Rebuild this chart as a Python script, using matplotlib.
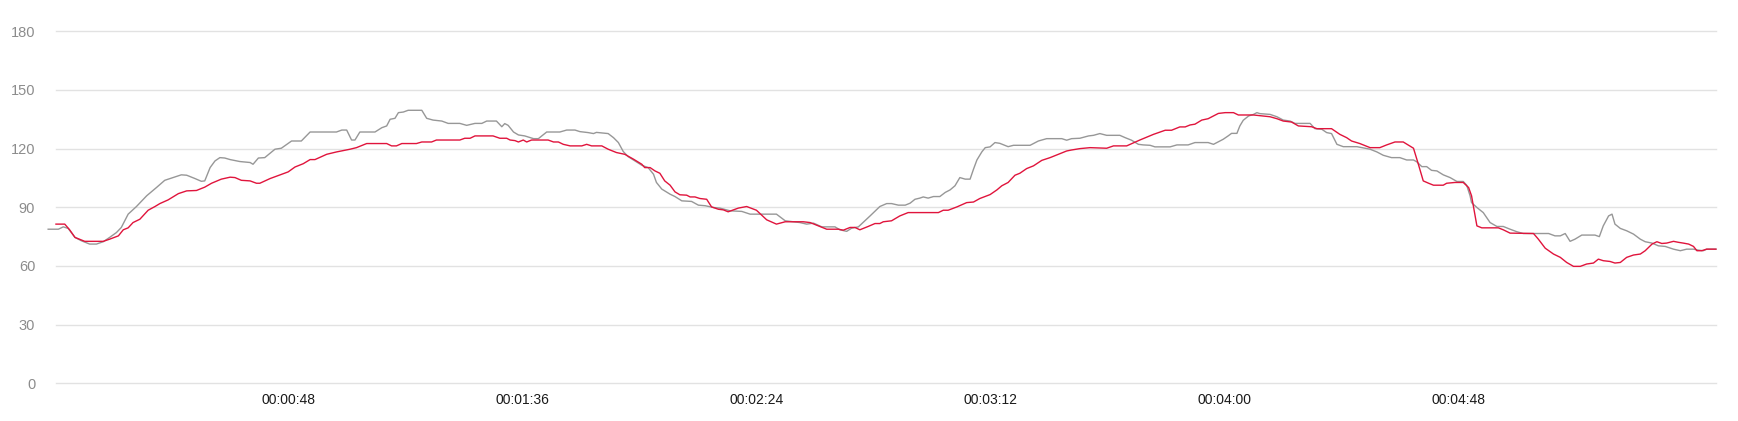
import matplotlib
matplotlib.use("Agg")
import matplotlib.pyplot as plt

plt.rcParams['font.family'] = ['Liberation Sans', 'DejaVu Sans']

# gray series (seconds, value)
gray_t = [-1.2, 0.9, 1.9, 2.9, 4.3, 5.6, 7.3, 8.7, 10.1, 11.4, 12.8, 13.8, 15.2, 16.9, 19.0,
          21.0, 22.7, 24.4, 26.1, 27.2, 28.9, 30.2, 30.9, 32.0, 33.0, 34.0, 35.0, 36.1, 38.1,
          40.2, 40.8, 41.9, 43.2, 45.3, 46.6, 48.7, 50.7, 52.5, 57.9, 59.0, 60.0, 61.0, 61.7,
          62.7, 65.8, 67.2, 68.2, 68.9, 69.9, 70.6, 71.6, 72.6, 75.4, 76.4, 77.7, 79.5, 80.8,
          83.2, 84.6, 86.3, 87.7, 88.7, 90.7, 91.8, 92.4, 93.1, 94.2, 95.2, 96.5, 98.3, 99.3,
          101.0, 103.7, 105.1, 106.8, 107.8, 109.5, 110.6, 111.2, 113.6, 114.7, 115.7, 116.7,
          117.7, 119.1, 120.5, 121.8, 122.9, 123.5, 124.6, 126.3,
          127.3, 128.7, 130.7, 132.1, 133.5, 135.2, 136.5, 138.6, 141.0, 142.7, 148.1, 149.9,
          151.6, 152.9, 154.3, 155.7, 157.4, 160.1, 161.1, 162.5, 163.5, 164.9, 167.3, 169.3,
          170.7, 171.7, 173.1, 174.5, 175.5, 176.5, 177.5, 178.2, 179.2, 180.3, 181.6, 182.7,
          183.7, 184.7, 185.7, 186.8, 187.8, 188.5, 189.2, 190.2, 190.9, 191.9, 192.9, 193.9,
          195.6, 196.7, 200.1, 201.8, 203.5, 206.6, 207.6, 208.6, 210.3, 212.1,
          213.1, 214.4, 215.8, 218.5, 219.6, 220.9, 222.3, 223.3, 224.7, 225.7, 228.8, 230.2,
          232.5, 233.9, 236.6, 237.7, 238.4, 239.7, 240.7, 241.4, 242.5, 243.1, 243.8, 244.9,
          245.9, 246.6, 247.2, 249.3, 250.7, 252.0, 253.4, 254.4, 255.4,
          257.5, 258.5, 259.9, 260.9, 261.9, 263.0, 264.3, 267.1, 268.1, 269.8, 271.2, 272.5,
          274.2, 275.9, 277.3, 278.7, 279.4, 280.4, 281.4, 282.4, 283.5, 284.8, 286.2, 287.6,
          288.9, 289.6, 290.3, 290.6, 291.7, 293.0, 294.4, 295.8, 297.1, 298.5,
          299.9, 301.2, 306.4, 307.7, 308.8, 309.8, 310.8, 311.8, 313.2, 315.9, 316.8, 317.6,
          318.7, 319.4, 320.0, 321.1, 322.4, 323.8, 325.2, 326.2, 327.6, 328.9, 330.3, 332.0,
          333.4, 334.7, 336.1, 337.1, 338.1, 338.8, 340.7]
gray_v = [78.8, 78.8, 80.0, 79.2, 74.6, 72.9, 71.2, 71.2, 72.4, 74.6, 77.1, 79.7, 86.5, 90.4, 95.9,
          100.1, 103.8, 105.2, 106.6, 106.4, 104.7, 103.3, 103.5, 110.3, 113.7, 115.4, 115.2, 114.4, 113.4,
          112.9, 112.0, 115.2, 115.4, 119.7, 120.2, 123.9, 123.9, 128.5, 128.5, 129.5, 129.5, 124.4, 124.4,
          128.5, 128.5, 130.7, 131.6, 135.0, 135.5, 138.4, 138.7, 139.6, 139.6, 135.5, 134.6, 134.1, 132.9,
          132.9, 131.9, 132.9, 132.9, 134.1, 134.1, 131.2, 132.8, 131.9, 128.5, 127.0, 126.5, 125.1, 125.1,
          128.5, 128.5, 129.5, 129.5, 128.7, 128.2, 127.7, 128.3, 127.7, 125.6, 123.1, 118.5,
          115.9, 113.7, 111.5, 110.3, 106.9, 102.7, 99.3, 96.7,
          95.5, 93.3, 93.0, 91.1, 90.8, 89.9, 89.6, 88.2, 87.9, 86.5, 86.5, 83.1,
          82.6, 82.2, 81.4, 81.9, 80.0, 80.0, 78.5, 77.7, 79.3, 80.0, 85.6, 90.4,
          91.9, 91.9, 91.1, 91.1, 92.1, 94.1, 94.7, 95.3, 94.7, 95.5, 95.5, 97.6,
          98.9, 101.0, 105.2, 104.4, 104.4, 109.5, 114.2, 118.3, 120.5, 120.9, 123.1, 122.7,
          121.0, 121.7, 121.7, 123.9, 125.1, 125.1, 124.3, 125.1, 125.3, 126.5,
          126.8, 127.7, 126.8, 126.8, 125.6, 124.3, 122.2, 121.9, 121.7, 120.9, 120.9, 121.9,
          121.9, 123.1, 123.1, 122.2, 123.1, 124.8, 126.5, 127.8, 127.8, 131.6, 134.5, 136.7,
          137.5, 138.4, 137.9, 137.5, 136.3, 134.6, 134.1, 132.9, 132.9,
          132.9, 130.2, 129.9, 128.2, 127.7, 122.2, 121.0, 121.0, 120.5, 119.7, 118.3, 116.6,
          115.4, 115.4, 114.2, 114.2, 113.2, 110.8, 110.8, 108.9, 108.6, 106.6, 105.2, 103.2,
          103.2, 101.3, 95.9, 92.4, 89.9, 87.3, 82.2, 80.2, 80.2, 78.8,
          77.5, 76.6, 76.6, 75.4, 75.4, 76.6, 72.6, 73.7, 75.8, 75.8, 75.0, 80.5,
          85.6, 86.5, 81.4, 79.2, 78.0, 76.3, 73.7, 72.4, 71.7, 70.3, 70.0, 68.6,
          67.8, 68.6, 68.6, 68.1, 67.8, 68.6, 68.6]

# red series (seconds, value)
red_t = [0.4, 2.2, 3.2, 4.3, 6.3, 10.1, 11.4, 13.2, 14.2, 15.2, 16.2, 17.6, 19.3, 20.7, 21.7,
         23.4, 25.5, 27.2, 29.2, 30.9, 32.3, 34.3, 36.1, 37.1, 38.4,
         40.2, 41.5, 42.2, 44.3, 48.0, 49.4, 51.1, 52.5, 53.5, 55.9, 57.9, 60.7, 62.0, 64.1,
         68.2, 69.2, 70.2, 71.3, 74.3, 75.4, 77.4, 78.4,
         83.2, 84.2, 85.3, 86.3, 90.0, 91.4, 92.8, 93.5, 94.5, 95.2, 96.2, 96.9, 97.9, 101.3,
         102.4, 103.4, 104.4, 105.8, 108.2, 109.2, 110.2, 112.3, 113.6, 115.3, 117.0, 118.8,
         120.5, 121.1, 122.2, 123.2, 124.2, 125.2, 126.3,
         127.3, 128.3, 129.7, 130.4, 131.4, 132.4, 133.8, 134.8, 136.2, 137.2, 138.2, 139.3,
         140.3, 142.0, 144.0, 146.1, 148.1, 149.9, 153.6, 155.0, 156.7, 158.4, 160.8, 161.8,
         163.2, 164.2, 165.2, 166.9, 168.3, 169.3,
         170.0, 171.7, 173.4, 175.1, 181.3, 182.3, 183.3, 185.1, 187.1, 188.5, 189.8, 191.9,
         193.3, 194.3, 195.6, 197.0, 198.0, 199.4, 200.8, 202.5, 204.2, 205.9, 207.6, 208.6,
         210.3, 212.4,
         215.8, 217.2, 219.9, 222.6, 225.4, 227.8, 229.1, 230.8, 231.9, 232.9, 233.9, 235.3,
         236.6, 238.7, 240.1, 241.8, 242.8, 245.9, 247.9, 249.3, 250.7, 252.0, 253.7, 255.1,
         257.8, 258.9, 261.9, 263.6, 265.0, 266.0, 267.7, 269.8, 271.8, 273.2, 274.9, 276.6,
         277.7, 278.7, 279.7, 280.7, 281.8, 282.8, 284.8, 285.5, 287.2, 288.9, 290.0, 290.6,
         291.7, 292.7, 296.1, 297.1, 298.5,
         303.3, 304.3, 305.7, 307.4, 308.8, 310.1, 311.5, 312.9, 314.2, 315.6, 316.6, 317.6,
         319.0, 320.0, 321.1, 322.4, 323.8, 325.2, 326.2, 327.6, 328.6, 329.6, 330.6, 332.0,
         333.0, 334.0, 335.1, 336.1, 336.8, 337.8, 338.8, 340.7]
red_v = [81.4, 81.4, 78.5, 74.6, 72.6, 72.6, 73.7, 75.4, 78.5, 79.5, 82.2, 83.9, 88.5, 90.4, 91.9,
         93.8, 97.0, 98.4, 98.6, 100.3, 102.3, 104.4, 105.4, 105.2, 103.8,
         103.5, 102.3, 102.3, 104.7, 108.1, 110.6, 112.3, 114.4, 114.4, 117.1, 118.3, 119.7, 120.5, 122.6,
         122.6, 121.4, 121.4, 122.6, 122.6, 123.4, 123.4, 124.4,
         124.4, 125.3, 125.3, 126.5, 126.5, 125.3, 125.3, 124.4, 124.1, 123.4, 124.4, 123.4, 124.4, 124.4,
         123.4, 123.4, 122.2, 121.4, 121.4, 122.2, 121.4, 121.4, 119.7, 118.0, 117.1, 114.6,
         112.0, 110.3, 110.3, 108.6, 107.4, 103.5, 101.3,
         97.9, 96.4, 96.2, 95.3, 95.3, 94.5, 94.1, 90.2, 89.0, 88.7, 87.7, 88.7,
         89.6, 90.4, 88.5, 83.6, 81.4, 82.6, 82.6, 82.2, 80.5, 78.8, 78.8, 78.3,
         79.7, 79.7, 78.5, 80.2, 81.7, 81.7,
         82.6, 83.1, 85.6, 87.3, 87.3, 88.5, 88.5, 90.2, 92.4, 92.7, 94.5, 96.5,
         98.9, 101.0, 102.7, 106.4, 107.4, 109.8, 111.2, 114.0, 115.4, 117.1, 118.8, 119.3,
         120.0, 120.5,
         120.2, 121.4, 121.4, 124.4, 127.3, 129.4, 129.4, 131.1, 131.1, 132.1, 132.5, 134.6,
         135.3, 138.0, 138.4, 138.4, 137.2, 137.2, 136.7, 136.3, 135.3, 134.1, 133.6, 131.6,
         131.2, 130.2, 130.2, 127.3, 125.6, 123.9, 122.6, 120.5, 120.5, 121.9, 123.4, 123.4,
         121.7, 120.2, 112.0, 103.5, 102.3, 101.3, 101.3, 102.3, 102.7, 102.7, 100.1, 95.9,
         80.5, 79.5, 79.5, 78.5, 76.8,
         76.6, 73.7, 69.1, 66.1, 64.4, 61.8, 59.8, 59.8, 61.0, 61.5, 63.5, 62.7,
         62.3, 61.5, 61.8, 64.4, 65.6, 66.1, 67.8, 71.2, 72.4, 71.5, 71.7, 72.6,
         72.1, 71.7, 71.2, 70.0, 67.8, 67.8, 68.6, 68.6]

tick_secs = [48, 96, 144, 192, 240, 288]
tick_labels = ["00:00:48", "00:01:36", "00:02:24", "00:03:12", "00:04:00", "00:04:48"]
y_ticks = [0, 30, 60, 90, 120, 150, 180]

fig = plt.figure(figsize=(17.38, 4.21), dpi=100)
ax = fig.add_axes([0.0322, 0.0895, 0.9551, 0.8362])

ax.plot(gray_t, gray_v, color='#979797', lw=1.0, clip_on=False, zorder=3)
ax.plot(red_t, red_v, color='#e0143c', lw=1.0, clip_on=False, zorder=4)

ax.set_xlim(0.4, 340.7)
ax.set_ylim(0, 180)
ax.set_yticks(y_ticks)
ax.set_xticks(tick_secs)
ax.set_xticklabels(tick_labels)

ax.grid(axis='y', color='#e2e2e2', lw=1.0)
ax.grid(axis='x', visible=False)
ax.set_axisbelow(True)
for gl in ax.yaxis.get_gridlines():
    gl.set_clip_on(False)
for s in ax.spines.values():
    s.set_visible(False)

ax.tick_params(axis='y', length=0, pad=15, labelsize=10.5, labelcolor='#8c8c8c')
ax.tick_params(axis='x', length=0, pad=7, labelsize=10, labelcolor='#1a1a1a')

fig.savefig('out.png', dpi=100)
